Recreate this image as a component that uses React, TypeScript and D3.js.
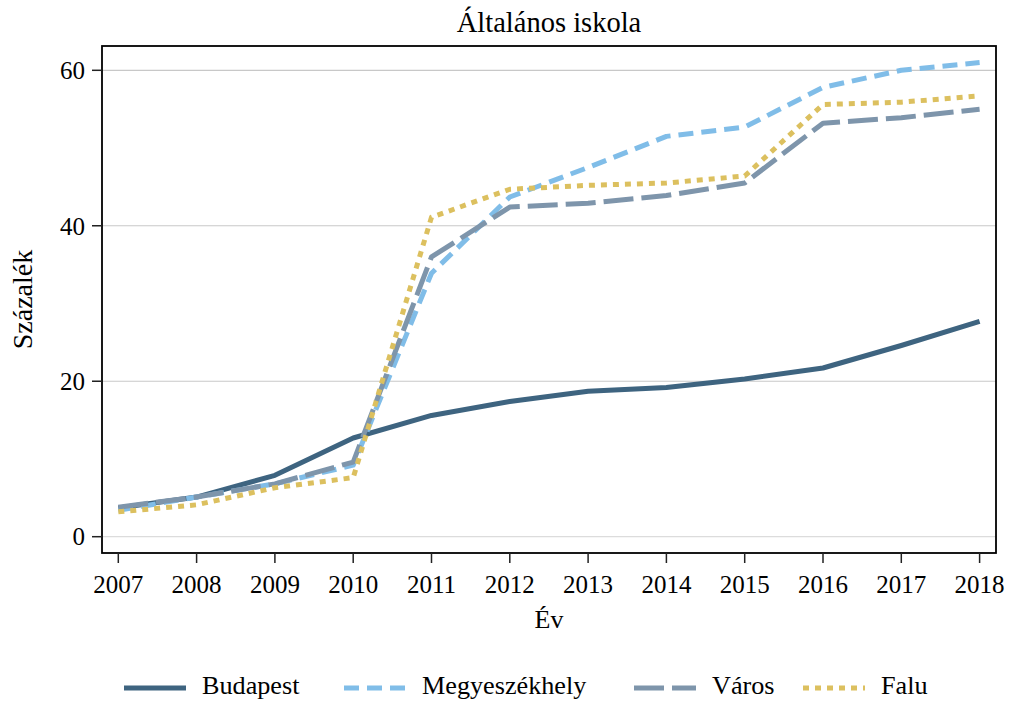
import * as d3 from "d3";

const years = [2007, 2008, 2009, 2010, 2011, 2012, 2013, 2014, 2015, 2016, 2017, 2018];

const budapest = [3.7, 5.1, 7.9, 12.7, 15.6, 17.4, 18.7, 19.2, 20.3, 21.7, 24.6, 27.7];
const megyeszekhely = [3.4, 5.1, 6.8, 9.2, 33.9, 43.7, 47.5, 51.5, 52.7, 57.8, 60.0, 61.0];
const varos = [3.8, 5.1, 6.8, 9.6, 36.0, 42.4, 42.9, 43.9, 45.5, 53.2, 53.9, 55.0];
const falu = [3.2, 4.1, 6.3, 7.6, 41.1, 44.7, 45.2, 45.5, 46.4, 55.6, 55.9, 56.7];

const yTicks = [0, 20, 40, 60];

const series = [
  { name: "Budapest", values: budapest, color: "#3e6480", dash: "none", legendX: 124 },
  { name: "Megyeszékhely", values: megyeszekhely, color: "#80bde8", dash: "15 8", legendX: 344 },
  { name: "Város", values: varos, color: "#7e95ab", dash: "30 8", legendX: 634 },
  { name: "Falu", values: falu, color: "#dcc05f", dash: "6 6", legendX: 803 },
];

const W = 1011;
const H = 703;
const frame = { left: 102, right: 996, top: 46, bottom: 553 };
const font = "'Liberation Serif', 'Times New Roman', serif";

export default function App() {
  const x = d3.scaleLinear().domain([2007, 2018]).range([118.3, 979.6]);
  const y = d3.scaleLinear().domain([0, 60]).range([536.7, 70.3]);

  const line = d3
    .line<number>()
    .x((_, i) => x(years[i]))
    .y((d) => y(d));

  return (
    <svg
      width={W}
      height={H}
      style={{ position: "absolute", left: 0, top: 0, background: "#fff" }}
      fontFamily={font}
    >
      <rect x={0} y={0} width={W} height={H} fill="#fff" />
      {/* grid */}
      {yTicks.map((t) => (
        <line
          key={t}
          x1={frame.left}
          x2={frame.right}
          y1={y(t)}
          y2={y(t)}
          stroke={t === 0 ? "#dcdcdc" : "#c8c8c8"}
          strokeWidth={1.2}
        />
      ))}

      {/* series */}
      {series.map((s) => (
        <path
          key={s.name}
          d={line(s.values) ?? ""}
          fill="none"
          stroke={s.color}
          strokeWidth={5}
          strokeDasharray={s.dash}
          strokeLinejoin="round"
        />
      ))}

      {/* frame */}
      <rect
        x={frame.left}
        y={frame.top}
        width={frame.right - frame.left}
        height={frame.bottom - frame.top}
        fill="none"
        stroke="#000"
        strokeWidth={1.8}
      />

      {/* y axis */}
      {yTicks.map((t) => (
        <g key={t}>
          <line x1={frame.left - 10} x2={frame.left} y1={y(t)} y2={y(t)} stroke="#222" strokeWidth={1.5} />
          <text x={frame.left - 17} y={y(t)} dy="0.35em" textAnchor="end" fontSize={25}>
            {t}
          </text>
        </g>
      ))}

      {/* x axis */}
      {years.map((yr) => (
        <g key={yr}>
          <line x1={x(yr)} x2={x(yr)} y1={frame.bottom} y2={frame.bottom + 10} stroke="#222" strokeWidth={1.5} />
          <text x={x(yr)} y={593} textAnchor="middle" fontSize={25}>
            {yr}
          </text>
        </g>
      ))}

      {/* titles */}
      <text x={(frame.left + frame.right) / 2} y={32} textAnchor="middle" fontSize={28.5}>
        Általános iskola
      </text>
      <text x={(frame.left + frame.right) / 2} y={628} textAnchor="middle" fontSize={26}>
        Év
      </text>
      <text
        transform={`translate(32, ${(frame.top + frame.bottom) / 2}) rotate(-90)`}
        textAnchor="middle"
        fontSize={28}
      >
        Százalék
      </text>

      {/* legend */}
      {series.map((s) => (
        <g key={s.name}>
          <line
            x1={s.legendX}
            x2={s.legendX + 62}
            y1={688}
            y2={688}
            stroke={s.color}
            strokeWidth={5}
            strokeDasharray={s.dash}
          />
          <text x={s.legendX + 78} y={694} fontSize={26.2}>
            {s.name}
          </text>
        </g>
      ))}
    </svg>
  );
}
